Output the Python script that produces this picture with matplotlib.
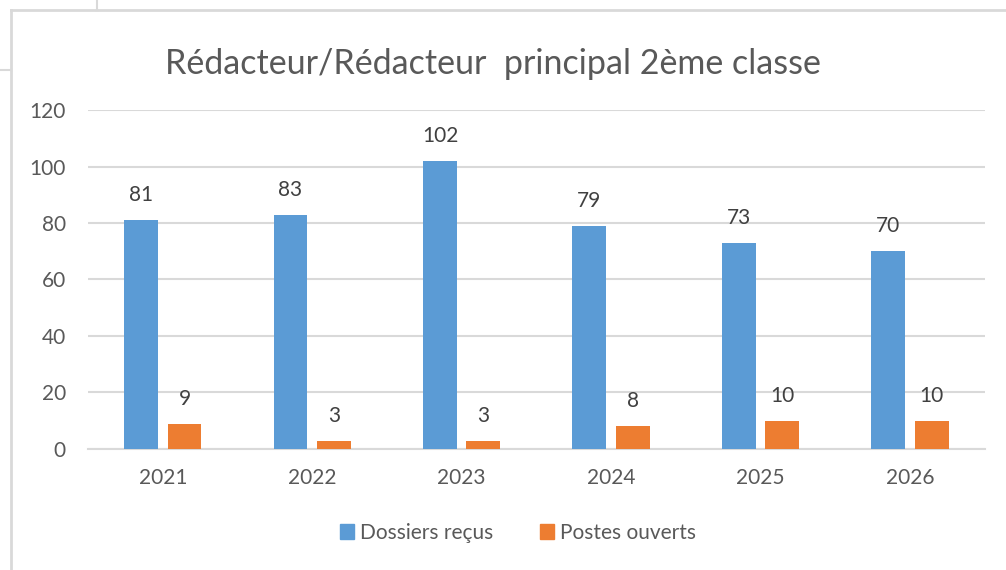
import matplotlib.pyplot as plt
import numpy as np
from matplotlib.lines import Line2D
from matplotlib.patches import Patch

years = ["2021", "2022", "2023", "2024", "2025", "2026"]
dossiers = [81, 83, 102, 79, 73, 70]
postes = [9, 3, 3, 8, 10, 10]

blue = "#5B9BD5"
orange = "#ED7D31"
grey_txt = "#595959"
grid_col = "#D9D9D9"

plt.rcParams["font.family"] = ["Lato", "DejaVu Sans"]

fig = plt.figure(figsize=(10.06, 5.70), dpi=100)
ax = fig.add_axes([0.0875, 0.2123, 0.8915, 0.5947])

x = np.arange(len(years))
w = 0.227
off = 0.1455
b1 = ax.bar(x - off, dossiers, w, color=blue, label="Dossiers reçus", zorder=3)
b2 = ax.bar(x + off, postes, w, color=orange, label="Postes ouverts", zorder=3)

# data labels
for bars in (b1, b2):
    for r in bars:
        ax.annotate(str(int(r.get_height())), (r.get_x() + r.get_width() / 2, r.get_height()),
                    xytext=(0, 18), textcoords="offset points", ha="center", va="center",
                    fontsize=15, color="#404040")

ax.set_xlim(-0.5, len(years) - 0.5)
ax.set_ylim(0, 120)
ax.set_yticks(range(0, 121, 20))
ax.set_xticks(x)
ax.set_xticklabels(years)
ax.yaxis.grid(True, color=grid_col, linewidth=1.5, zorder=0)
ax.tick_params(axis="both", length=0, labelsize=15, labelcolor=grey_txt)
ax.tick_params(axis="y", pad=16)
ax.tick_params(axis="x", pad=14)
for s in ["top", "right", "left"]:
    ax.spines[s].set_visible(False)
ax.spines["bottom"].set_color(grid_col)
ax.spines["bottom"].set_linewidth(1.5)

fig.text(0.49, 1 - 64 / 570, "Rédacteur/Rédacteur  principal 2ème classe",
         ha="center", va="center", fontsize=24.5, color=grey_txt)

handles = [Patch(color=blue, label="Dossiers reçus"), Patch(color=orange, label="Postes ouverts")]
fig.legend(handles=handles, loc="center", bbox_to_anchor=(518 / 1006, 1 - 533 / 570), ncol=2,
           frameon=False, fontsize=15, labelcolor=grey_txt, handlelength=0.7, handleheight=0.7,
           handletextpad=0.3, columnspacing=2.2)

# chart border and spreadsheet cell lines
fig.add_artist(Line2D([11 / 1006, 11 / 1006], [0, 1 - 10 / 570], color=grid_col, lw=2))
fig.add_artist(Line2D([11 / 1006, 1], [1 - 10 / 570, 1 - 10 / 570], color=grid_col, lw=2))
fig.add_artist(Line2D([97 / 1006, 97 / 1006], [1, 1 - 10 / 570], color=grid_col, lw=1.5))
fig.add_artist(Line2D([0, 11 / 1006], [1 - 70 / 570, 1 - 70 / 570], color=grid_col, lw=1.5))

fig.savefig("out.png", dpi=100)
